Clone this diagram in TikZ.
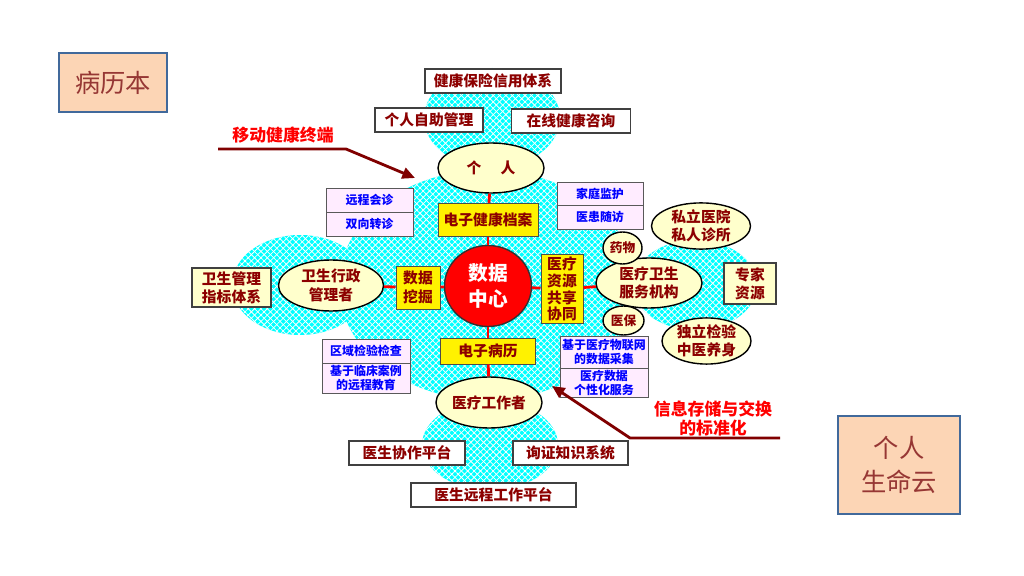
\documentclass[tikz,border=0pt]{standalone}
\usepackage{fontspec}
\setmainfont{Noto Sans CJK SC}
\usetikzlibrary{shapes.geometric,arrows.meta,patterns.meta}

\definecolor{netcyan}{RGB}{0,255,255}
\definecolor{boxtext}{RGB}{140,0,0}
\definecolor{pinkbox}{RGB}{255,236,255}
\definecolor{paleyellow}{RGB}{255,255,204}
\definecolor{arrowred}{RGB}{128,0,0}
\definecolor{peach}{RGB}{252,213,181}
\definecolor{slateblue}{RGB}{65,105,155}
\definecolor{cloudtext}{RGB}{150,55,52}

\tikzset{
  plainbox/.style={draw=black!75, line width=0.9pt, fill=white, text=boxtext,
    font=\bfseries\fontsize{10.5}{13}\selectfont, inner sep=0pt, minimum height=0.6cm},
  hubbox/.style={draw=black!70, line width=0.7pt, fill=yellow, text=boxtext,
    font=\bfseries\fontsize{10.5}{12}\selectfont, inner sep=0pt, align=center},
  rolenode/.style={ellipse, draw=black, line width=1pt, fill=paleyellow, text=boxtext,
    font=\bfseries\fontsize{10.5}{13}\selectfont, inner sep=0pt, align=center},
  sidebox/.style={draw=black!75, line width=0.8pt, fill=paleyellow, text=boxtext,
    font=\bfseries\fontsize{10.5}{13}\selectfont, inner sep=0pt, align=center},
  svcbox/.style={draw=black!65, line width=0.7pt, fill=pinkbox, text=blue,
    font=\bfseries\fontsize{8.5}{10}\selectfont, inner sep=0pt, align=center,
    minimum width=2.175cm},
  link/.style={red, line width=2pt},
  callout/.style={arrowred, line width=2pt, -{Triangle[length=9pt,width=8pt]}},
  note/.style={text=red, font=\bfseries\fontsize{12}{13.5}\selectfont, align=center},
  slidebox/.style={draw=slateblue, line width=2pt, fill=peach, text=cloudtext,
    font=\fontsize{18}{24}\selectfont, align=center, inner sep=0pt}
}

\begin{document}
\begin{tikzpicture}[x=0.025cm, y=-0.025cm]
  \useasboundingbox (0,0) rectangle (1024,576);

  % cyan net behind the diagram
  \foreach \cx/\cy/\rx/\ry in {492/118/68/50, 487/285/148/115, 300/285/68/50,
                               695/285/62/45, 490/445/68/45} {
    \fill[netcyan] (\cx,\cy) ellipse [x radius=\rx, y radius=\ry];
    \fill[pattern={Lines[angle=45, distance=3.2pt, line width=0.55pt]}, pattern color=white]
      (\cx,\cy) ellipse [x radius=\rx, y radius=\ry];
    \fill[pattern={Lines[angle=-45, distance=3.2pt, line width=0.55pt]}, pattern color=white]
      (\cx,\cy) ellipse [x radius=\rx, y radius=\ry];
  }

  % slide labels
  \node[slidebox, minimum width=2.7cm, minimum height=1.475cm] (casebook) at (113,82.5) {病历本};
  \node[slidebox, minimum width=3.05cm, minimum height=2.45cm] (lifecloud) at (899,465) {个人\\生命云};

  % centre
  \node[ellipse, draw=black!80, line width=1pt, fill=red, text=white, align=center,
        font=\bfseries\fontsize{14}{18}\selectfont, inner sep=0pt,
        minimum width=2.175cm, minimum height=2.025cm] (datahub) at (488,286) {数据\\中心};
  \node[hubbox, minimum width=2.5cm, minimum height=0.825cm] (ehr) at (488,220) {电子健康档案};
  \node[hubbox, minimum width=2.375cm, minimum height=0.65cm] (emr) at (488,351) {电子病历};
  \node[hubbox, minimum width=1.1cm, minimum height=1.075cm, font=\bfseries\fontsize{10.5}{13}\selectfont] (mining) at (418,287.5) {数据\\挖掘};
  \node[hubbox, minimum width=1.05cm, minimum height=1.7cm] (sharing) at (562,289) {医疗\\资源\\共享\\协同};

  % roles
  \node[rolenode, minimum width=2.65cm, minimum height=1.25cm] (person) at (491,168) {个\hspace{1.3em}人};
  \node[rolenode, minimum width=2.625cm, minimum height=1.275cm] (admin) at (331,285.5) {卫生行政\\管理者};
  \node[rolenode, minimum width=2.65cm, minimum height=1.25cm] (provider) at (649,283) {医疗卫生\\服务机构};
  \node[rolenode, minimum width=2.65cm, minimum height=1.275cm] (worker) at (489,402.5) {医疗工作者};
  \node[rolenode, minimum width=0.975cm, minimum height=0.8cm, font=\bfseries\fontsize{9}{10}\selectfont] (drug) at (622.5,248) {药物};
  \node[rolenode, minimum width=1.025cm, minimum height=0.725cm, font=\bfseries\fontsize{9}{10}\selectfont] (medins) at (623.5,320.5) {医保};
  \node[rolenode, minimum width=2.475cm, minimum height=0.975cm] (private) at (701,226) {私立医院\\私人诊所};
  \node[rolenode, minimum width=2.225cm, minimum height=1.05cm] (lab) at (706.5,341) {独立检验\\中医养身};

  % outer boxes
  \node[plainbox, minimum width=3.4cm] (credit) at (493,81) {健康保险信用体系};
  \node[plainbox, minimum width=2.7cm] (selfcare) at (429,120) {个人自助管理};
  \node[plainbox, minimum width=2.975cm] (online) at (571,121) {在线健康咨询};
  \node[plainbox, minimum width=2.9cm] (collab) at (407,453) {医生协作平台};
  \node[plainbox, minimum width=2.875cm] (evidence) at (570.5,453) {询证知识系统};
  \node[plainbox, minimum width=4.125cm] (remote) at (493.5,495) {医生远程工作平台};
  \node[sidebox, minimum width=1.975cm, minimum height=0.975cm] (indicator) at (231.5,287.5) {卫生管理\\指标体系};
  \node[sidebox, minimum width=1.3cm, minimum height=1.025cm] (expert) at (750,283.5) {专家\\资源};

  % service boxes
  \node[svcbox, minimum height=0.6cm] (consult) at (369.5,200) {远程会诊};
  \node[svcbox, minimum height=0.6cm] (referral) at (369.5,224) {双向转诊};
  \node[svcbox, minimum width=2.15cm, minimum height=0.575cm] (homecare) at (600,193.5) {家庭监护};
  \node[svcbox, minimum width=2.15cm, minimum height=0.6cm] (followup) at (600,217) {医患随访};
  \node[svcbox, minimum width=2.2cm, minimum height=0.6cm] (regionlab) at (366,351) {区域检验检查};
  \node[svcbox, minimum width=2.2cm, minimum height=0.75cm] (teaching) at (366,378) {基于临床案例\\的远程教育};
  \node[svcbox, minimum width=2.2cm, minimum height=0.8cm] (iot) at (604,352) {基于医疗物联网\\的数据采集};
  \node[svcbox, minimum width=2.2cm, minimum height=0.725cm] (custom) at (604,382.5) {医疗数据\\个性化服务};

  % red links
  \draw[link] (person) -- (ehr);
  \draw[link] (ehr) -- (datahub);
  \draw[link] (datahub) -- (emr);
  \draw[link] (emr) -- (worker);
  \draw[link] (admin) -- (mining);
  \draw[link] (mining) -- (datahub);
  \draw[link] (datahub) -- (sharing);
  \draw[link] (sharing) -- (provider);

  % callouts
  \coordinate (mobS) at (218,149);
  \coordinate (mobK) at (346,149);
  \coordinate (mobT) at (415,178);
  \draw[callout] (mobS) -- (mobK) -- (mobT);
  \node[note] (mobile) at (283,135) {移动健康终端};

  \coordinate (stdS) at (780,438);
  \coordinate (stdK) at (630,438);
  \coordinate (stdT) at (552,386);
  \draw[callout] (stdS) -- (stdK) -- (stdT);
  \node[note] (standard) at (713,418) {信息存储与交换\\的标准化};
\end{tikzpicture}
\end{document}
